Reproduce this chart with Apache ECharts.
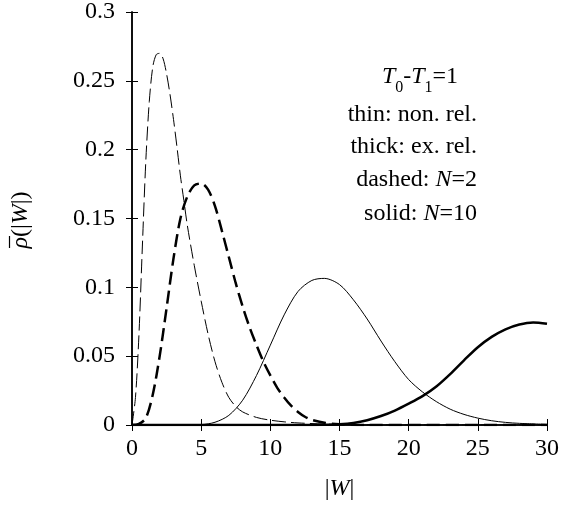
<!DOCTYPE html>
<html>
<head>
<meta charset="utf-8">
<script src="https://cdn.jsdelivr.net/npm/echarts@6/dist/echarts.min.js"></script>
<style>html,body{margin:0;padding:0;background:#fff}#c{width:563px;height:506px}</style>
</head>
<body>
<div id="c"></div>
<script>
// Thin dashed: non. rel., N=2
var thinDashedX = [0, 0.25, 0.5, 0.75, 1.0, 1.25, 1.5, 1.75, 2.0, 2.25, 2.5, 2.75, 3.0, 3.25, 3.5, 3.75, 4.0, 4.5, 5.0, 5.5, 6.0, 6.5, 7.0, 7.5, 8.0, 9.0, 10, 11, 12, 14, 17, 20, 30];
var thinDashedY = [0, 0.020, 0.065, 0.130, 0.192, 0.235, 0.260, 0.269, 0.270, 0.266, 0.255, 0.240, 0.222, 0.202, 0.181, 0.163, 0.145, 0.116, 0.090, 0.066, 0.046, 0.031, 0.020, 0.0135, 0.0095, 0.0055, 0.0035, 0.0023, 0.0015, 0.0007, 0.0002, 0, 0];
// Thick dashed: ex. rel., N=2
var thickDashedX = [0, 0.5, 1.0, 1.5, 2.0, 2.5, 3.0, 3.5, 4.0, 4.5, 5.0, 5.5, 6.0, 6.5, 7.0, 7.5, 8.0, 8.5, 9.0, 9.5, 10.0, 10.5, 11.0, 11.5, 12.0, 12.5, 13, 14, 15, 17, 30];
var thickDashedY = [0, 0.0008, 0.005, 0.022, 0.050, 0.085, 0.121, 0.150, 0.166, 0.174, 0.1755, 0.171, 0.159, 0.141, 0.122, 0.103, 0.086, 0.071, 0.058, 0.046, 0.036, 0.027, 0.020, 0.014, 0.0095, 0.006, 0.0037, 0.0014, 0.0005, 0, 0];
// Thin solid: non. rel., N=10
var thinSolidX = [0, 3, 5, 6, 7, 8, 9, 10, 11, 12, 13, 13.9, 15, 16, 17, 18, 19, 20, 21, 22, 23, 24, 25, 26, 27, 28, 30];
var thinSolidY = [0, 0, 0.0003, 0.002, 0.007, 0.018, 0.036, 0.058, 0.080, 0.097, 0.105, 0.1065, 0.102, 0.091, 0.077, 0.061, 0.046, 0.033, 0.024, 0.017, 0.0115, 0.0077, 0.0050, 0.0031, 0.0019, 0.0012, 0.0005];
// Thick solid: ex. rel., N=10
var thickSolidX = [0, 13, 14, 15, 16, 17, 18, 19, 20, 21, 22, 23, 24, 25, 26, 27, 28, 29, 30];
var thickSolidY = [0, 0, 0.0001, 0.0005, 0.0015, 0.0035, 0.0065, 0.0105, 0.0155, 0.021, 0.028, 0.037, 0.047, 0.0565, 0.064, 0.0695, 0.073, 0.0745, 0.0735];

var xTicks = [0, 5, 10, 15, 20, 25, 30];
var yTicks = [0, 0.05, 0.1, 0.15, 0.2, 0.25, 0.3];

function pairs(xs, ys) { return xs.map(function (x, i) { return [x, ys[i]]; }); }

var FONT = '"Liberation Serif", "Times New Roman", serif';
var chart = echarts.init(document.getElementById('c'), null, { renderer: 'canvas' });

function axisCommon(extra) {
  var base = {
    type: 'value',
    axisLine: { show: true, lineStyle: { color: '#000', width: 1.5 } },
    axisTick: { show: true, inside: true, length: 6, lineStyle: { color: '#000', width: 1 } },
    splitLine: { show: false },
    axisLabel: { color: '#000', fontFamily: FONT, fontSize: 24 }
  };
  for (var k in extra) base[k] = extra[k];
  return base;
}

function lineSeries(name, xs, ys, width, dash) {
  return { type: 'line', name: name, data: pairs(xs, ys), smooth: 0.3, smoothConstraint: false,
    showSymbol: false, clip: true, lineStyle: { color: '#000', width: width, type: dash || 'solid' } };
}

var IT = { fontStyle: 'italic', fontFamily: FONT, fontSize: 24 };

var option = {
  animation: false,
  backgroundColor: '#fff',
  grid: { left: 132, right: 16, top: 11, bottom: 78, containLabel: false },
  xAxis: [
    axisCommon({
      min: xTicks[0], max: xTicks[xTicks.length - 1], interval: 5, position: 'bottom',
      axisLabel: { color: '#000', fontFamily: FONT, fontSize: 24, margin: 12 },
      name: '|{i|W}|', nameLocation: 'middle', nameGap: 52,
      nameTextStyle: { color: '#000', fontFamily: FONT, fontSize: 24, rich: { i: IT } }
    }),
    axisCommon({
      min: xTicks[0], max: xTicks[xTicks.length - 1], interval: 5, position: 'top',
      axisLabel: { show: false }
    })
  ],
  yAxis: [
    axisCommon({
      min: yTicks[0], max: yTicks[yTicks.length - 1], interval: 0.05, position: 'left',
      axisLabel: { color: '#000', fontFamily: FONT, fontSize: 24, margin: 17,
        formatter: function (v) { return String(parseFloat(v.toFixed(2))); } }
    }),
    axisCommon({
      min: yTicks[0], max: yTicks[yTicks.length - 1], interval: 0.05, position: 'right',
      axisLabel: { show: false }
    })
  ],
  series: [
    lineSeries('non. rel. N=2', thinDashedX, thinDashedY, 1, [14, 5]),
    lineSeries('ex. rel. N=2', thickDashedX, thickDashedY, 2.5, [13, 6]),
    lineSeries('non. rel. N=10', thinSolidX, thinSolidY, 1),
    lineSeries('ex. rel. N=10', thickSolidX, thickSolidY, 2.5)
  ],
  graphic: [
    { type: 'text', x: 21, y: 220, rotation: Math.PI / 2,
      style: { text: '{i|\u03C1}(|{i|W}|)', align: 'center', verticalAlign: 'middle', fill: '#000', font: '24px ' + FONT,
        rich: { i: IT } } },
    { type: 'line', shape: { x1: 9.5, y1: 236, x2: 9.5, y2: 248 }, style: { stroke: '#000', lineWidth: 1.2 } },
    { type: 'text', x: 420, y: 77, style: { text: '{i|T}{s|0}{m|-}{i|T}{s|1}{m|=1}', align: 'center', verticalAlign: 'middle', fill: '#000',
        font: '24px ' + FONT,
        rich: { i: { fontStyle: 'italic', fontFamily: FONT, fontSize: 24, lineHeight: 24, verticalAlign: 'middle' },
                m: { fontFamily: FONT, fontSize: 24, lineHeight: 24, verticalAlign: 'middle' },
                s: { fontFamily: FONT, fontSize: 16, lineHeight: 24, padding: [15, 0, 0, 0], verticalAlign: 'top' } } } },
    { type: 'text', x: 477, y: 115, style: { text: 'thin: non. rel.', align: 'right', verticalAlign: 'middle', fill: '#000', font: '24px ' + FONT } },
    { type: 'text', x: 477, y: 147, style: { text: 'thick: ex. rel.', align: 'right', verticalAlign: 'middle', fill: '#000', font: '24px ' + FONT } },
    { type: 'text', x: 477, y: 180, style: { text: 'dashed: {i|N}=2', align: 'right', verticalAlign: 'middle', fill: '#000', font: '24px ' + FONT,
        rich: { i: IT } } },
    { type: 'text', x: 477, y: 214, style: { text: 'solid: {i|N}=10', align: 'right', verticalAlign: 'middle', fill: '#000', font: '24px ' + FONT,
        rich: { i: IT } } }
  ]
};
chart.setOption(option);
</script>
</body>
</html>
